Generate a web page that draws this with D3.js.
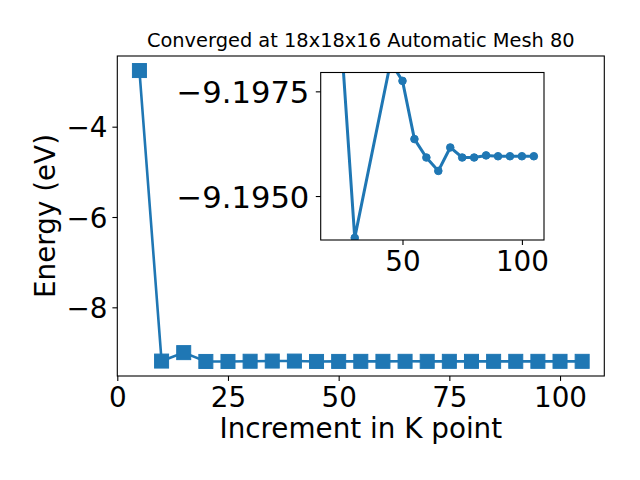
<!DOCTYPE html>
<html><head><meta charset="utf-8">
<script src="https://cdn.jsdelivr.net/npm/d3@7"></script>
<style>body{margin:0;background:#fff} text{font-family:"DejaVu Sans",sans-serif;fill:#000}</style>
</head><body><svg id="c" width="640" height="480"></svg>
<script>
// ---- data ----
const kPoints = [5,10,15,20,25,30,35,40,45,50,55,60,65,70,75,80,85,90,95,100,105];
const energies = [-2.757,-9.190,-9.003,-9.1985,-9.1982,-9.1940,-9.1900,-9.1900,-9.1982,-9.19775,
  -9.19636,-9.19592,-9.19560,-9.19616,-9.19592,-9.19592,-9.19597,-9.19595,-9.19595,-9.19595,-9.19595];
const insetK = [20,25,30,45,50,55,60,65,70,75,80,85,90,95,100,105];
const insetEnergy = [-9.1985,-9.1982,-9.1940,-9.1982,-9.19775,-9.19636,-9.19592,-9.19560,-9.19616,
  -9.19592,-9.19592,-9.19597,-9.19595,-9.19595,-9.19595,-9.19595];
const mainXTicks = [0,25,50,75,100];
const mainYTicks = [-8,-6,-4];
const insetXTicks = [50,100];
const insetYTicks = [-9.1975,-9.1950];
const titleText = "Converged at 18x18x16 Automatic Mesh 80";
const xLabel = "Increment in K point";
const yLabel = "Energy (eV)";

const color = "#1f77b4";
const svg = d3.select("#c");
const fmtMinus = s => s.replace("-", "\u2212");

function pad(ext){ const r = ext[1]-ext[0]; return [ext[0]-0.05*r, ext[1]+0.05*r]; }
function styleAxis(g, size){
  g.select(".domain").remove();
  g.selectAll("line").attr("stroke","#000").attr("stroke-width",1.1);
  g.selectAll("text").style("font-family","DejaVu Sans").style("font-size",size+"px").attr("fill","#000");
}

// ---- main axes ----
const M = {l:117.3, r:604.3, t:56, b:376};
const x = d3.scaleLinear().domain(pad(d3.extent(kPoints))).range([M.l, M.r]);
const y = d3.scaleLinear().domain(pad(d3.extent(energies))).range([M.b, M.t]);
const main = svg.append("g");
const data = kPoints.map((k,i)=>({k, e:energies[i]}));

main.append("path").datum(data)
  .attr("fill","none").attr("stroke",color).attr("stroke-width",2.6)
  .attr("d", d3.line().x(d=>x(d.k)).y(d=>y(d.e)));
const sq = 14;
main.selectAll("rect.m").data(data).enter().append("rect")
  .attr("x", d=>x(d.k)-sq/2).attr("y", d=>y(d.e)-sq/2)
  .attr("width", sq).attr("height", sq)
  .attr("fill", color).attr("stroke", color).attr("stroke-width", 1);

const xAxis = d3.axisBottom(x).tickValues(mainXTicks).tickSize(4.9).tickPadding(4.9).tickFormat(d3.format("d"));
const yAxis = d3.axisLeft(y).tickValues(mainYTicks).tickSize(4.9).tickPadding(4.9).tickFormat(d=>fmtMinus(String(d)));
const gx = main.append("g").attr("transform",`translate(0,${M.b})`).call(xAxis);
const gy = main.append("g").attr("transform",`translate(${M.l},0)`).call(yAxis);
styleAxis(gx, 27.8); styleAxis(gy, 27.8);
gx.selectAll("text").attr("dy", null).attr("y", 31);
gy.selectAll("text").attr("dy","0.37em");
main.append("rect").attr("x",M.l).attr("y",M.t).attr("width",M.r-M.l).attr("height",M.b-M.t)
  .attr("fill","none").attr("stroke","#000").attr("stroke-width",1.1);

svg.append("text").attr("x",(M.l+M.r)/2).attr("y",47).attr("text-anchor","middle")
  .style("font-size","19.4px").text(titleText);
svg.append("text").attr("x",(M.l+M.r)/2).attr("y",438).attr("text-anchor","middle")
  .style("font-size","27.8px").text(xLabel);
svg.append("text").attr("transform",`translate(55,${(M.t+M.b)/2}) rotate(-90)`).attr("text-anchor","middle")
  .style("font-size","27.8px").text(yLabel);

// ---- inset axes ----
const I = {l:320.7, r:544, t:72.5, b:240};
const xi = d3.scaleLinear().domain(pad(d3.extent(insetK))).range([I.l, I.r]);
const yi = d3.scaleLinear().domain([-9.19795, -9.19395]).range([I.t, I.b]);
const ins = svg.append("g");
ins.append("rect").attr("x",I.l).attr("y",I.t).attr("width",I.r-I.l).attr("height",I.b-I.t).attr("fill","#fff");
svg.append("clipPath").attr("id","ic").append("rect")
  .attr("x",I.l).attr("y",I.t).attr("width",I.r-I.l).attr("height",I.b-I.t);
const idata = insetK.map((k,i)=>({k, e:insetEnergy[i]}));
const ip = ins.append("g").attr("clip-path","url(#ic)");
ip.append("path").datum(idata).attr("fill","none").attr("stroke",color).attr("stroke-width",3)
  .attr("d", d3.line().x(d=>xi(d.k)).y(d=>yi(d.e)));
ip.selectAll("circle").data(idata).enter().append("circle")
  .attr("cx",d=>xi(d.k)).attr("cy",d=>yi(d.e)).attr("r",3.8)
  .attr("fill",color).attr("stroke",color).attr("stroke-width",1);

const xiAxis = d3.axisBottom(xi).tickValues(insetXTicks).tickSize(4.9).tickPadding(4.9).tickFormat(d3.format("d"));
const yiAxis = d3.axisLeft(yi).tickValues(insetYTicks).tickSize(4.9).tickPadding(6.5).tickFormat(d=>fmtMinus(d3.format(".4f")(d)));
const gxi = ins.append("g").attr("transform",`translate(0,${I.b})`).call(xiAxis);
const gyi = ins.append("g").attr("transform",`translate(${I.l},0)`).call(yiAxis);
styleAxis(gxi, 27.8); styleAxis(gyi, 30.6);
gxi.selectAll("text").attr("dy", null).attr("y", 31);
gyi.selectAll("text").attr("dy","0.38em");
ins.append("rect").attr("x",I.l).attr("y",I.t).attr("width",I.r-I.l).attr("height",I.b-I.t)
  .attr("fill","none").attr("stroke","#000").attr("stroke-width",1.1);
</script></body></html>
